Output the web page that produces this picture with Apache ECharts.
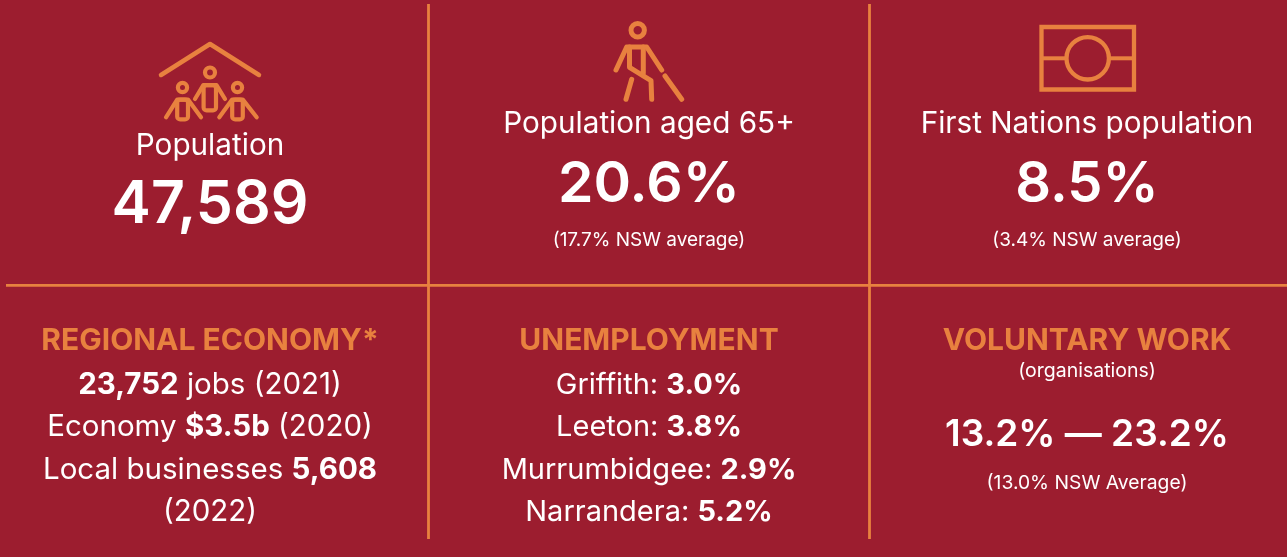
<!DOCTYPE html>
<html>
<head>
<meta charset="utf-8">
<title>Region snapshot</title>
<style>
html,body{margin:0;padding:0;background:#9c1d2f;}
#main{width:1287px;height:557px;}
</style>
<script src="https://cdn.jsdelivr.net/npm/echarts@6/dist/echarts.min.js"></script>
</head>
<body>
<div id="main"></div>
<script>
var BG = '#9c1d2f';
var ORANGE = '#e8813f';
var WHITE = '#ffffff';
var FONT = 'Inter, sans-serif';

// top row
var topLabels = ['Population', 'Population aged 65+', 'First Nations population'];
var topValues = ['47,589', '20.6%', '8.5%'];
var topNotes = ['', '(17.7% NSW average)', '(3.4% NSW average)'];

// bottom row, {b|..} is the bold part
var headings = ['REGIONAL ECONOMY*', 'UNEMPLOYMENT', 'VOLUNTARY WORK'];
var economyLines = ['{b|23,752} jobs (2021)', 'Economy {b|$3.5b} (2020)', 'Local businesses {b|5,608}', '(2022)'];
var unemploymentLines = ['Griffith: {b|3.0%}', 'Leeton: {b|3.8%}', 'Murrumbidgee: {b|2.9%}', 'Narrandera: {b|5.2%}'];
var voluntarySub = '(organisations)';
var voluntaryRange = '13.2% \u2014 23.2%';
var voluntaryNote = '(13.0% NSW Average)';

function txt(x, y, text, size, weight, color) {
    return {
        type: 'text',
        x: x,
        y: y,
        style: {
            text: text,
            fontFamily: FONT,
            fontSize: size,
            fontWeight: weight,
            fill: color || WHITE,
            align: 'center',
            verticalAlign: 'middle'
        }
    };
}

// text with a bold run in it
function richTxt(x, y, text, size) {
    return {
        type: 'text',
        x: x,
        y: y,
        style: {
            text: text,
            fontFamily: FONT,
            fontSize: size,
            fill: WHITE,
            align: 'center',
            verticalAlign: 'middle',
            rich: {
                b: {fontFamily: FONT, fontSize: size, fontWeight: 700, fill: WHITE}
            }
        }
    };
}

function line(pts, w) {
    return {
        type: 'polyline',
        shape: {points: pts},
        style: {stroke: ORANGE, lineWidth: w, fill: null, lineCap: 'round', lineJoin: 'round'}
    };
}

function ring(cx, cy, r, w) {
    return {
        type: 'circle',
        shape: {cx: cx, cy: cy, r: r},
        style: {stroke: ORANGE, lineWidth: w, fill: null}
    };
}

function box(x, y, w, h, r, lw) {
    return {
        type: 'rect',
        shape: {x: x, y: y, width: w, height: h, r: r},
        style: {stroke: ORANGE, lineWidth: lw, fill: null}
    };
}

var els = [];

// grid lines
els.push({type: 'line', shape: {x1: 428.5, y1: 4, x2: 428.5, y2: 539}, style: {stroke: ORANGE, lineWidth: 2.8}});
els.push({type: 'line', shape: {x1: 869.5, y1: 4, x2: 869.5, y2: 539}, style: {stroke: ORANGE, lineWidth: 2.8}});
els.push({type: 'line', shape: {x1: 6, y1: 285.4, x2: 1287, y2: 285.4}, style: {stroke: ORANGE, lineWidth: 2.8}});

// house icon
els.push(line([[161, 75], [210, 44], [259, 75]], 4.5));
els.push(ring(210, 72.5, 5, 4.2));
els.push(ring(182.5, 87.5, 4.6, 4.2));
els.push(ring(237.5, 87.5, 4.6, 4.2));
els.push(box(203.6, 85.2, 12.4, 25.2, 3, 4.2));
els.push(line([[195, 99], [203.3, 85.2], [216.5, 85.2], [225, 99]], 4.2));
els.push(box(177.2, 99.6, 10.8, 19.8, 3, 4.2));
els.push(line([[166, 117.3], [177.2, 99.6], [188, 99.6], [201, 117.3]], 4.2));
els.push(box(232.2, 99.6, 10.6, 19.8, 3, 4.2));
els.push(line([[219.3, 117.3], [232.2, 99.6], [242.8, 99.6], [256.7, 117.3]], 4.2));

// walking with cane icon
els.push(ring(637.7, 30.3, 6.7, 5));
els.push(line([[616, 70], [626.7, 47], [646.7, 47], [661.7, 70]], 5));
els.push(line([[629.5, 47], [629.5, 67.3], [651, 80.7], [651.7, 99.3]], 5));
els.push(line([[643.3, 47], [643.3, 73]], 5));
els.push(line([[631.7, 79.3], [626, 99.3]], 5));
els.push(line([[665, 76], [681.7, 99.3]], 5));

// flag icon
els.push(box(1041.5, 27, 92.5, 62.5, 0, 4.3));
els.push(ring(1087.7, 58.3, 21.2, 4.3));
els.push({type: 'line', shape: {x1: 1041, y1: 58.3, x2: 1066.5, y2: 58.3}, style: {stroke: ORANGE, lineWidth: 4}});
els.push({type: 'line', shape: {x1: 1109, y1: 58.3, x2: 1134, y2: 58.3}, style: {stroke: ORANGE, lineWidth: 4}});

// top row text
els.push(txt(210, 146, topLabels[0], 29.7, 400));
els.push(txt(210, 205, topValues[0], 59, 600));
els.push(txt(649, 124, topLabels[1], 29.7, 400));
els.push(txt(649, 185, topValues[1], 57, 600));
els.push(txt(649, 240, topNotes[1], 19, 400));
els.push(txt(1087, 124, topLabels[2], 29.7, 400));
els.push(txt(1087, 185, topValues[2], 56, 600));
els.push(txt(1087, 240, topNotes[2], 19, 400));

// bottom row text
els.push(txt(210, 341, headings[0], 30, 700, ORANGE));
els.push(txt(649, 341, headings[1], 30, 700, ORANGE));
els.push(txt(1087, 341, headings[2], 30, 700, ORANGE));

var rowY = [385, 427, 470, 512];
economyLines.forEach(function (s, i) {
    els.push(richTxt(210, rowY[i], s, 29.5));
});
unemploymentLines.forEach(function (s, i) {
    els.push(richTxt(649, rowY[i], s, 29));
});
els.push(txt(1087, 371, voluntarySub, 19.5, 400));
els.push(txt(1087, 435, voluntaryRange, 37, 600));
els.push(txt(1087, 483, voluntaryNote, 19.3, 400));

var chart = echarts.init(document.getElementById('main'));
chart.setOption({
    backgroundColor: BG,
    animation: false,
    graphic: {elements: els}
});
</script>
</body>
</html>
